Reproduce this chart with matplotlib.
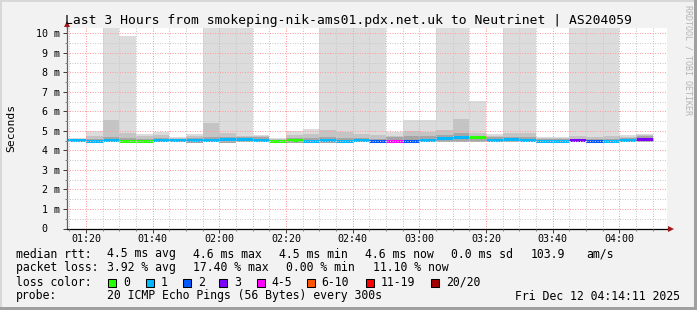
import matplotlib
matplotlib.use("Agg")
import matplotlib.pyplot as plt
from matplotlib.patches import Rectangle
from matplotlib.ticker import FixedLocator, MultipleLocator
import numpy as np

# ---------------- data ----------------
bar_start = ["01:10", "01:15", "01:20", "01:25", "01:30", "01:35", "01:40", "01:45", "01:50",
             "01:55", "02:00", "02:05", "02:10", "02:15", "02:20", "02:25", "02:30", "02:35",
             "02:40", "02:45", "02:50", "02:55", "03:00", "03:05", "03:10", "03:15", "03:20",
             "03:25", "03:30", "03:35", "03:40", "03:45", "03:50", "03:55", "04:00", "04:05"]
median_ms = [4.53, 4.53, 4.49, 4.55, 4.49, 4.49, 4.51, 4.51, 4.56, 4.56, 4.61, 4.61,
             4.56, 4.49, 4.53, 4.48, 4.53, 4.50, 4.53, 4.50, 4.50, 4.50, 4.55, 4.65,
             4.68, 4.67, 4.53, 4.60, 4.53, 4.48, 4.48, 4.53, 4.50, 4.50, 4.55, 4.60]
loss_class = [1, 1, 1, 1, 0, 0, 1, 1, 1, 1, 1, 1,
              1, 0, 0, 1, 1, 1, 1, 2, 4, 2, 1, 1,
              1, 0, 1, 1, 1, 1, 1, 3, 2, 1, 1, 3]
smoke_min = [4.42, 4.42, 4.40, 4.43, 4.42, 4.42, 4.43, 4.44, 4.36, 4.42, 4.40, 4.45,
             4.45, 4.42, 4.38, 4.38, 4.40, 4.40, 4.42, 4.42, 4.42, 4.40, 4.42, 4.45,
             4.45, 4.42, 4.42, 4.42, 4.42, 4.40, 4.42, 4.42, 4.40, 4.42, 4.42, 4.45]
smoke_q3 = [4.58, 4.58, 4.60, 4.70, 4.62, 4.60, 4.62, 4.58, 4.62, 4.70, 4.68, 4.70,
            4.68, 4.55, 4.65, 4.62, 4.70, 4.65, 4.62, 4.60, 4.70, 4.72, 4.72, 4.80,
            4.90, 4.75, 4.68, 4.70, 4.70, 4.58, 4.58, 4.60, 4.60, 4.60, 4.62, 4.72]
smoke_p90 = [4.60, 4.60, 4.75, 5.55, 4.90, 4.75, 4.80, 4.65, 4.75, 5.42, 4.90, 4.75,
             4.72, 4.60, 4.80, 4.85, 5.05, 4.95, 4.85, 4.80, 4.75, 5.00, 4.95, 5.05,
             5.60, 4.90, 4.75, 4.90, 4.90, 4.62, 4.62, 4.72, 4.70, 4.75, 4.70, 4.80]
smoke_max = [4.65, 4.65, 4.99, 11.0, 9.88, 4.84, 4.95, 4.70, 4.84, 11.0, 11.0, 11.0,
             4.78, 4.65, 4.99, 5.09, 11.0, 11.0, 11.0, 11.0, 4.95, 5.55, 5.55, 11.0,
             11.0, 6.52, 4.85, 11.0, 11.0, 4.67, 4.67, 11.0, 11.0, 11.0, 4.77, 4.85]

loss_colors = ["#26ff00", "#00b8ff", "#0059ff", "#7e00ff", "#ff00ff", "#ff5500", "#ff0000", "#a10000"]
loss_labels = ["0", "1", "2", "3", "4-5", "6-10", "11-19", "20/20"]

x_tick_labels = ["01:20", "01:40", "02:00", "02:20", "02:40", "03:00", "03:20", "03:40", "04:00"]
y_tick_values = [0, 1, 2, 3, 4, 5, 6, 7, 8, 9, 10]
y_tick_labels = ["0  ", "1 m", "2 m", "3 m", "4 m", "5 m", "6 m", "7 m", "8 m", "9 m", "10 m"]

title = "Last 3 Hours from smokeping-nik-ams01.pdx.net.uk to Neutrinet | AS204059"

# ---------------- figure ----------------
W, H = 697, 310
MONO = "DejaVu Sans Mono"
plt.rcParams["font.family"] = [MONO]

fig = plt.figure(figsize=(W / 100, H / 100), dpi=100)
fig.patch.set_facecolor("#f2f2f2")

def fx(px):
    return px / W

def fy(py):
    return 1 - py / H

ax_l, ax_r, ax_t, ax_b = 66.7, 666.7, 27.5, 228.5
ax = fig.add_axes([fx(ax_l), fy(ax_b), (ax_r - ax_l) / W, (ax_b - ax_t) / H])
ax.set_facecolor("white")

def to_min(s):
    h, m = s.split(":")
    return int(h) * 60 + int(m)

starts = np.array([to_min(s) for s in bar_start], dtype=float)
width = 5.0

smin = np.array(smoke_min)
ax.bar(starts, np.array(smoke_max) - smin, bottom=smin, width=width, align="edge",
       color="#dcdcdc", linewidth=0, zorder=1)
ax.bar(starts, np.array(smoke_p90) - smin, bottom=smin, width=width, align="edge",
       color="#c4c4c4", linewidth=0, zorder=1.1)
ax.bar(starts, np.array(smoke_q3) - smin, bottom=smin, width=width, align="edge",
       color="#a6a6a6", linewidth=0, zorder=1.2)
ax.hlines(median_ms, starts, starts + width,
          colors=[loss_colors[c] for c in loss_class], linewidth=2.2, zorder=1.5)

x0, x1 = 74.2, 254.2
ax.set_xlim(x0, x1)
ax.set_ylim(0, 10.30)

# grid (drawn on top like rrdtool)
ax.set_axisbelow(False)
ax.xaxis.set_major_locator(FixedLocator([to_min(s) for s in x_tick_labels]))
ax.set_xticklabels(x_tick_labels)
ax.xaxis.set_minor_locator(MultipleLocator(5))
ax.set_yticks(y_tick_values)
ax.set_yticklabels(y_tick_labels)
ax.yaxis.set_minor_locator(MultipleLocator(0.5))
ax.grid(which="minor", color="#c8c8c8", linestyle=(0, (1, 1.5)), linewidth=0.72, zorder=2.4)
ax.grid(which="major", color="#ff9c9c", linestyle=(0, (1, 1.5)), linewidth=0.72, zorder=2.5)

ax.tick_params(axis="both", which="major", direction="out", length=2.6, width=0.72,
               color="#404040", labelsize=7.2, labelcolor="black")
ax.tick_params(axis="x", which="major", pad=1.5)
ax.tick_params(axis="y", which="major", pad=2.2)
ax.tick_params(axis="both", which="minor", direction="out", length=1.4, width=0.72, color="#808080")
for lab in ax.get_xticklabels() + ax.get_yticklabels():
    lab.set_family(MONO)

for s in ("top", "right"):
    ax.spines[s].set_visible(False)
ax.spines["left"].set_color("#606060")
ax.spines["left"].set_linewidth(0.9)
ax.spines["bottom"].set_color("black")
ax.spines["bottom"].set_linewidth(0.9)

# axis extensions and arrows
ax.plot([1.0, 1.006], [0, 0], color="black", lw=0.9, transform=ax.transAxes, clip_on=False, zorder=3)
ax.plot([0, 0], [1.0, 1.012], color="#606060", lw=0.9, transform=ax.transAxes, clip_on=False, zorder=3)
ax.plot([1.0075], [0], marker=">", markersize=4.2, color="#a01818", markeredgewidth=0,
        transform=ax.transAxes, clip_on=False, zorder=4)
ax.plot([0], [1.019], marker="^", markersize=4.2, color="#a01818", markeredgewidth=0,
        transform=ax.transAxes, clip_on=False, zorder=4)

# titles
fig.text(0.5, fy(24), title, ha="center", va="baseline", fontsize=9.4, family=MONO, color="black")
fig.text(fx(11), fy(128), "Seconds", rotation=90, ha="center", va="center", fontsize=8.2,
         family=MONO, color="black")
fig.text(fx(688), fy(60), "RRDTOOL / TOBI OETIKER", rotation=-90, ha="center", va="center",
         fontsize=6.0, family=MONO, color="#b4b4b4")

# legend lines
LS = 8.3
rows = [
    (257.5, [(16, "median rtt:"), (106.7, "4.5 ms avg"), (192.7, "4.6 ms max"),
             (279.3, "4.5 ms min"), (365, "4.6 ms now"), (451, "0.0 ms sd"),
             (530.7, "103.9"), (586, "am/s")]),
    (271.3, [(16, "packet loss:"), (106.7, "3.92 % avg"), (192.7, "17.40 % max"),
             (286, "0.00 % min"), (372.7, "11.10 % now")]),
    (285.5, [(16, "loss color:")]),
    (299.5, [(16, "probe:"), (106.7, "20 ICMP Echo Pings (56 Bytes) every 300s")]),
]
for yb, items in rows:
    for xp, txt in items:
        fig.text(fx(xp), fy(yb), txt, ha="left", va="baseline", fontsize=LS, family=MONO,
                 color="black")
fig.text(fx(680), fy(299.5), "Fri Dec 12 04:14:11 2025", ha="right", va="baseline",
         fontsize=LS, family=MONO, color="black")

box_x = [108.3, 145.7, 182.7, 219.3, 256.7, 306.7, 365.7, 430.7]
for bx, col, lab in zip(box_x, loss_colors, loss_labels):
    fig.patches.append(Rectangle((fx(bx), fy(287)), 8 / W, 8 / H, transform=fig.transFigure,
                                 facecolor=col, edgecolor="black", linewidth=0.75))
    fig.text(fx(bx + 15), fy(285.5), lab, ha="left", va="baseline", fontsize=LS, family=MONO,
             color="black")

# bevel border
fig.patches.append(Rectangle((0, 1 - 2 / H), 1, 2 / H, transform=fig.transFigure,
                             facecolor="#d8d8d8", edgecolor="none"))
fig.patches.append(Rectangle((0, 0), 2 / W, 1, transform=fig.transFigure,
                             facecolor="#d8d8d8", edgecolor="none"))
fig.patches.append(Rectangle((0, 0), 1, 3 / H, transform=fig.transFigure,
                             facecolor="#a0a0a0", edgecolor="none"))
fig.patches.append(Rectangle((1 - 3 / W, 0), 3 / W, 1, transform=fig.transFigure,
                             facecolor="#a0a0a0", edgecolor="none"))

fig.savefig("out.png", dpi=100, facecolor=fig.get_facecolor())
